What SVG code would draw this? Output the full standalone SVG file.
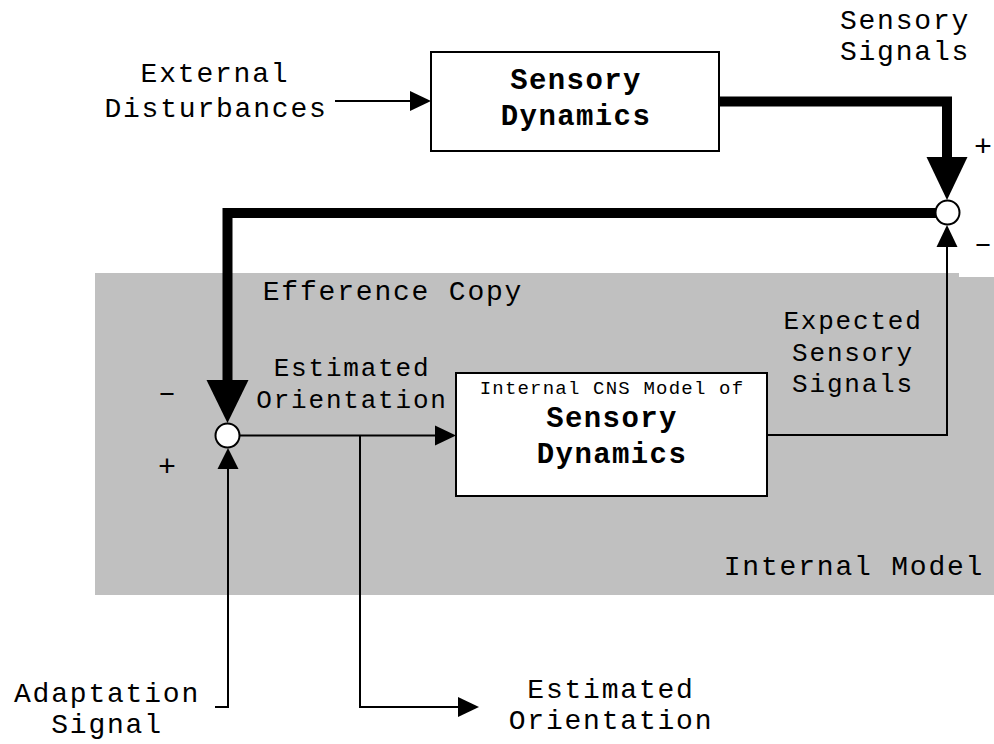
<svg xmlns="http://www.w3.org/2000/svg" width="994" height="744" viewBox="0 0 994 744">
<style>
text{font-family:"Liberation Mono","Courier New",monospace;fill:#000;text-anchor:middle}
.t31{font-size:28px;letter-spacing:1.8px}
.t29{font-size:26px;letter-spacing:1.8px}
.sign{font-size:30px}
.small{font-size:19px;letter-spacing:1.2px}
.bold{font-size:29px;font-weight:bold;letter-spacing:1.4px}
.box{fill:#fff;stroke:#000;stroke-width:2}
.thin{fill:none;stroke:#000;stroke-width:2}
.thick{fill:none;stroke:#000;stroke-width:10;stroke-linejoin:miter}
.sum{fill:#fff;stroke:#000;stroke-width:2}
.head{fill:#000}
</style>
<rect width="994" height="744" fill="#fff"/>
<g id="internal-model-region">
<rect x="95" y="273" width="899" height="322" fill="#c0c0c0"/>
<rect x="959" y="262" width="35" height="15" fill="#fff"/>
<text class="t31" x="854" y="575">Internal Model</text>
<text class="t31" x="393" y="300">Efference Copy</text>
</g>
<g id="connectors">
<path class="thin" d="M335,101 H412"/>
<polygon class="head" points="410,91 431,101 410,111"/>
<path class="thick" d="M719,101.5 H947 V160"/>
<polygon class="head" points="926.5,157 967.5,157 947,200"/>
<path class="thick" d="M936,213 H227.5 V383"/>
<polygon class="head" points="206.5,380 248.5,380 227.5,423"/>
<path class="thin" d="M240,435.5 H437"/>
<polygon class="head" points="435,425.5 456,435.5 435,445.5"/>
<path class="thin" d="M767,435 H947 V245"/>
<polygon class="head" points="936.5,247 957.5,247 947,225"/>
<path class="thin" d="M360,435.5 V707 H460"/>
<polygon class="head" points="458,697 479,707 458,717"/>
<path class="thin" d="M215,707 H228 V466"/>
<polygon class="head" points="217.5,469 238.5,469 228,448"/>
</g>
<g id="sum-top">
<circle class="sum" cx="947.5" cy="212.5" r="12"/>
<text class="sign" x="983" y="156">+</text>
<text class="sign" x="983" y="253">–</text>
</g>
<g id="sum-left">
<circle class="sum" cx="227.5" cy="435.5" r="12"/>
<text class="sign" x="167" y="402">–</text>
<text class="sign" x="167" y="476">+</text>
</g>
<g id="sensory-dynamics">
<rect class="box" x="431" y="52" width="288" height="99"/>
<text class="bold" x="576" y="89">Sensory</text>
<text class="bold" x="576" y="125">Dynamics</text>
</g>
<g id="internal-cns-model">
<rect class="box" x="456" y="373" width="311" height="123"/>
<text class="small" x="612" y="394">Internal CNS Model of</text>
<text class="bold" x="612" y="427">Sensory</text>
<text class="bold" x="612" y="463">Dynamics</text>
</g>
<g id="label-external">
<text class="t31" x="215" y="82">External</text>
<text class="t31" x="216" y="117">Disturbances</text>
</g>
<g id="label-sensory-signals">
<text class="t31" x="905" y="29">Sensory</text>
<text class="t31" x="905" y="60">Signals</text>
</g>
<g id="label-expected">
<text class="t29" x="853" y="329">Expected</text>
<text class="t29" x="853" y="361">Sensory</text>
<text class="t29" x="853" y="392">Signals</text>
</g>
<g id="label-estimated-1">
<text class="t29" x="352" y="376">Estimated</text>
<text class="t29" x="352" y="408">Orientation</text>
</g>
<g id="label-adaptation">
<text class="t31" x="107" y="702">Adaptation</text>
<text class="t31" x="107" y="733">Signal</text>
</g>
<g id="label-estimated-2">
<text class="t31" x="611" y="698">Estimated</text>
<text class="t31" x="611" y="729">Orientation</text>
</g>
</svg>
